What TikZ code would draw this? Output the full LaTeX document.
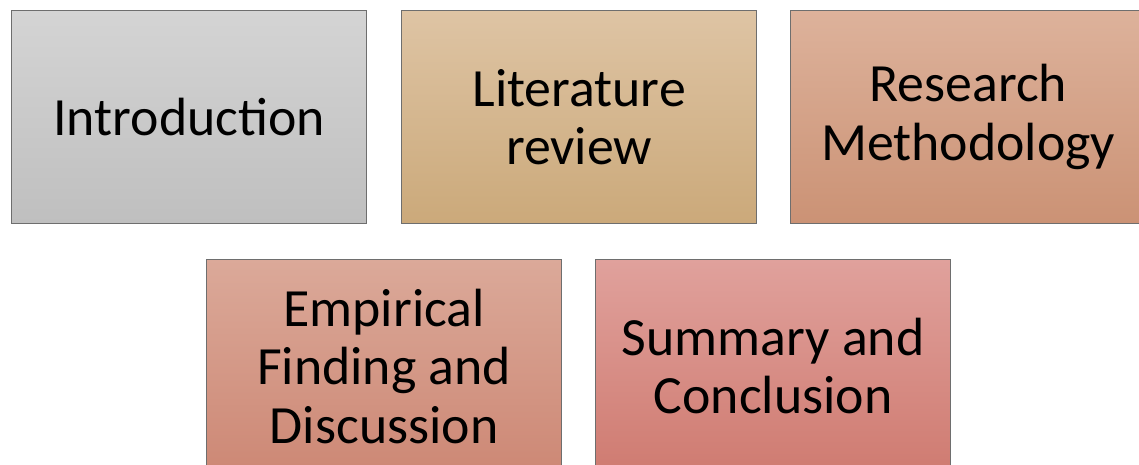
\documentclass[tikz,border=0pt]{standalone}
\usepackage{fontspec}
\setmainfont{Carlito}
\begin{document}
\begin{tikzpicture}[x=1pt,y=-1pt,
  box/.style={draw=black!57, line width=1.3pt, minimum width=355pt, minimum height=213pt,
    inner sep=0pt, align=center, font=\fontsize{53.8}{58.5}\selectfont, anchor=north west}]
\useasboundingbox (0,0) rectangle (1139,465);
\clip (0,0) rectangle (1139,465);
\definecolor{gA}{HTML}{D4D4D4}\definecolor{gB}{HTML}{BFBFBF}
\definecolor{tA}{HTML}{DEC4A4}\definecolor{tB}{HTML}{CBA97A}
\definecolor{rA}{HTML}{DDB29B}\definecolor{rB}{HTML}{CB9275}
\definecolor{eA}{HTML}{DBA999}\definecolor{eB}{HTML}{CD8875}
\definecolor{sA}{HTML}{E0A19C}\definecolor{sB}{HTML}{CF7B71}
\node[box, top color=gA, bottom color=gB] (intro) at (11,10) {Introduction};
\node[box, top color=tA, bottom color=tB] (lit) at (401,10) {Literature\\review};
\node[box, top color=rA, bottom color=rB] (meth) at (790,10) {Research\\Methodology};
\node[box, top color=eA, bottom color=eB] (emp) at (206,259) {Empirical\\Finding and\\Discussion};
\node[box, top color=sA, bottom color=sB] (sum) at (595,259) {Summary and\\Conclusion};
\end{tikzpicture}
\end{document}
